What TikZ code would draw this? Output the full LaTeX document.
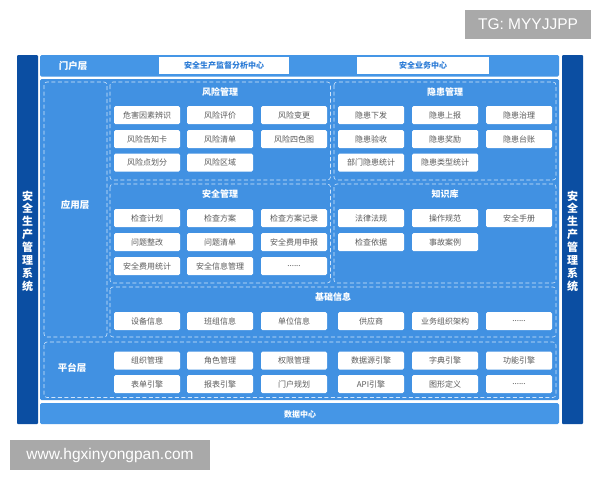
\documentclass[tikz,border=0pt]{standalone}
\usepackage{fontspec}
\setmainfont{Noto Sans CJK SC}
\newfontfamily\latinsans{Liberation Sans}
\definecolor{sidebar}{HTML}{0B4EA2}
\definecolor{midblue}{HTML}{4596E6}
\definecolor{mainblue}{HTML}{4191E2}
\definecolor{dashc}{HTML}{D2E6FB}
\definecolor{itemgray}{HTML}{5A5A5A}
\definecolor{portaltext}{HTML}{2B7BD6}
\definecolor{wmgray}{HTML}{A9A9A9}
\begin{document}
\begin{tikzpicture}[x=1pt,y=-1pt,
  item/.style={fill=white, rounded corners=1.5pt, minimum width=66pt, minimum height=18pt, inner sep=0pt, font=\fontsize{8}{9}\selectfont, text=itemgray},
  titletext/.style={text=white, font=\bfseries\fontsize{9}{10}\selectfont, inner sep=0pt},
  layertext/.style={text=white, font=\bfseries\fontsize{9.5}{11}\selectfont, inner sep=0pt},
  dbox/.style={draw=dashc, line width=0.6pt, dash pattern=on 4pt off 2.5pt, rounded corners=3pt},
  vtext/.style={text=white, font=\bfseries\fontsize{11}{12.9}\selectfont, align=center, text width=12pt, inner sep=0pt},
  pbox/.style={fill=white, minimum width=130pt, minimum height=17pt, inner sep=0pt, text=portaltext, font=\bfseries\fontsize{8}{9}\selectfont},
  wm/.style={fill=wmgray, text=white, inner sep=0pt, font=\latinsans\fontsize{15.5}{17}\selectfont}
]
\useasboundingbox (0,0) rectangle (600,480);
\fill[white] (0,0) rectangle (600,480);

% watermark boxes
\node[wm, minimum width=126pt, minimum height=29pt] (tg) at (528,24.5) {TG: MYYJJPP};
\node[wm, minimum width=200pt, minimum height=30pt] (www) at (110,455) {www.hgxinyongpan.com};

% side bars
\fill[sidebar, rounded corners=1pt] (17,55) rectangle (38,424);
\fill[sidebar, rounded corners=1pt] (562,55) rectangle (583,424);
\node[vtext] (lsys) at (27.5,241) {安\\全\\生\\产\\管\\理\\系\\统};
\node[vtext] (rsys) at (572.5,241) {安\\全\\生\\产\\管\\理\\系\\统};

% portal row
\fill[midblue, rounded corners=1.5pt] (40,55) rectangle (559,76.5);
\node[layertext] (portal) at (73,66) {门户层};
\node[pbox] (p1) at (224,65.5) {安全生产监督分析中心};
\node[pbox, minimum width=132pt] (p2) at (423,65.5) {安全业务中心};

% main area
\fill[mainblue, rounded corners=1.5pt] (40,79) rectangle (559,400);

% data center
\fill[midblue, rounded corners=1.5pt] (40,403) rectangle (559,424);
\node[titletext, font=\bfseries\fontsize{8}{9}\selectfont] (dc) at (300,414) {数据中心};

% dashed regions
\draw[dbox] (44,82) rectangle (107,337);
\draw[dbox] (110,82) rectangle (330.5,180);
\draw[dbox] (334,82) rectangle (556,180);
\draw[dbox] (110,184) rectangle (330.5,283);
\draw[dbox] (334,184) rectangle (556,283);
\draw[dbox] (110,287) rectangle (556,337);
\draw[dbox] (44,342) rectangle (556,397.5);

\node[layertext] (app) at (75,205) {应用层};
\node[layertext] (plat) at (72,368) {平台层};

% 风险管理
\node[titletext] (t1) at (220,92) {风险管理};
\node[item] (a1) at (147,115) {危害因素辨识};
\node[item] (a2) at (220,115) {风险评价};
\node[item] (a3) at (294,115) {风险变更};
\node[item] (a4) at (147,139) {风险告知卡};
\node[item] (a5) at (220,139) {风险清单};
\node[item] (a6) at (294,139) {风险四色图};
\node[item] (a7) at (147,162.5) {风险点划分};
\node[item] (a8) at (220,162.5) {风险区域};

% 隐患管理
\node[titletext] (t2) at (445,92) {隐患管理};
\node[item] (b1) at (371,115) {隐患下发};
\node[item] (b2) at (445,115) {隐患上报};
\node[item] (b3) at (519,115) {隐患治理};
\node[item] (b4) at (371,139) {隐患验收};
\node[item] (b5) at (445,139) {隐患奖励};
\node[item] (b6) at (519,139) {隐患台账};
\node[item] (b7) at (371,162.5) {部门隐患统计};
\node[item] (b8) at (445,162.5) {隐患类型统计};

% 安全管理
\node[titletext] (t3) at (220,194) {安全管理};
\node[item] (c1) at (147,218) {检查计划};
\node[item] (c2) at (220,218) {检查方案};
\node[item] (c3) at (294,218) {检查方案记录};
\node[item] (c4) at (147,242) {问题整改};
\node[item] (c5) at (220,242) {问题清单};
\node[item] (c6) at (294,242) {安全费用申报};
\node[item] (c7) at (147,266) {安全费用统计};
\node[item] (c8) at (220,266) {安全信息管理};
\node[item] (c9) at (294,266) {......};

% 知识库
\node[titletext] (t4) at (445,194) {知识库};
\node[item] (d1) at (371,218) {法律法规};
\node[item] (d2) at (445,218) {操作规范};
\node[item] (d3) at (519,218) {安全手册};
\node[item] (d4) at (371,242) {检查依据};
\node[item] (d5) at (445,242) {事故案例};

% 基础信息
\node[titletext] (t5) at (333,297) {基础信息};
\node[item] (e1) at (147,321) {设备信息};
\node[item] (e2) at (220,321) {班组信息};
\node[item] (e3) at (294,321) {单位信息};
\node[item] (e4) at (371,321) {供应商};
\node[item] (e5) at (445,321) {业务组织架构};
\node[item] (e6) at (519,321) {......};

% 平台层
\node[item] (f1) at (147,360.5) {组织管理};
\node[item] (f2) at (220,360.5) {角色管理};
\node[item] (f3) at (294,360.5) {权限管理};
\node[item] (f4) at (371,360.5) {数据源引擎};
\node[item] (f5) at (445,360.5) {字典引擎};
\node[item] (f6) at (519,360.5) {功能引擎};
\node[item] (g1) at (147,384) {表单引擎};
\node[item] (g2) at (220,384) {报表引擎};
\node[item] (g3) at (294,384) {门户规划};
\node[item] (g4) at (371,384) {API引擎};
\node[item] (g5) at (445,384) {图形定义};
\node[item] (g6) at (519,384) {......};
\end{tikzpicture}
\end{document}
